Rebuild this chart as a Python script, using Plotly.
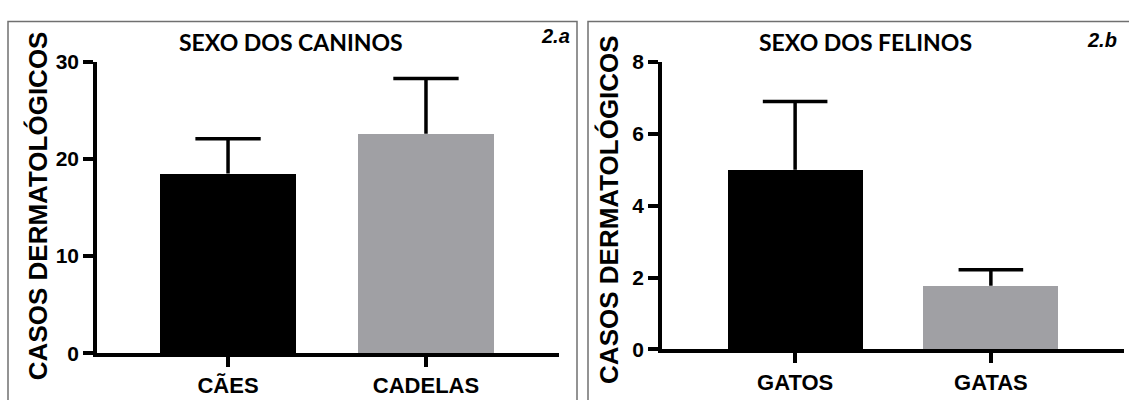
import plotly.graph_objects as go

# Casos dermatológicos por sexo
canino_cats = ["CÃES", "CADELAS"]
canino_media = [18.5, 22.6]
canino_dp = [3.6, 5.7]

felino_cats = ["GATOS", "GATAS"]
felino_media = [5.0, 1.77]
felino_dp = [1.9, 0.45]

bar_colors = ["#000000", "#a0a0a4"]

W, H = 1129, 400


def px_x(v):
    return v / W


def px_y(v):
    return (H - v) / H


def sd_lines(medias, dps, cap_half):
    """Haste vertical + barra superior do desvio padrão (só para cima)."""
    xs, ys = [], []
    for i, (m, s) in enumerate(zip(medias, dps)):
        top = m + s
        xs += [i, i, None, i - cap_half, i + cap_half, None]
        ys += [m, top, None, top, top, None]
    return xs, ys


fig = go.Figure()

fig.add_trace(go.Bar(
    x=[0, 1], y=canino_media, width=0.69,
    marker=dict(color=bar_colors, line=dict(width=0)),
    xaxis="x", yaxis="y", showlegend=False,
))
ex, ey = sd_lines(canino_media, canino_dp, 0.165)
fig.add_trace(go.Scatter(x=ex, y=ey, mode="lines",
                         line=dict(color="black", width=3.5),
                         xaxis="x", yaxis="y", showlegend=False, hoverinfo="skip"))

fig.add_trace(go.Bar(
    x=[0, 1], y=felino_media, width=0.69,
    marker=dict(color=bar_colors, line=dict(width=0)),
    xaxis="x2", yaxis="y2", showlegend=False,
))
ex, ey = sd_lines(felino_media, felino_dp, 0.165)
fig.add_trace(go.Scatter(x=ex, y=ey, mode="lines",
                         line=dict(color="black", width=3.5),
                         xaxis="x2", yaxis="y2", showlegend=False, hoverinfo="skip"))

ytick_font = dict(family="Liberation Sans, Arial", size=21, color="black", weight="bold")
xtick_font = dict(family="Liberation Sans, Arial", size=22, color="black", weight="bold")

axis_common = dict(showline=True, linecolor="black", linewidth=3.5,
                   ticks="outside", ticklen=10, tickwidth=3.5, tickcolor="black",
                   showgrid=False, zeroline=False, fixedrange=True)

fig.update_layout(
    width=W, height=H,
    margin=dict(l=0, r=0, t=0, b=0),
    paper_bgcolor="white", plot_bgcolor="white",
    bargap=0,
    xaxis=dict(domain=[px_x(97), px_x(559)], range=[-0.662, 1.672],
               tickvals=[0, 1], ticktext=canino_cats, anchor="y",
               tickfont=xtick_font, **axis_common),
    yaxis=dict(domain=[px_y(362), px_y(53)], range=[0, 30],
               tickvals=[0, 10, 20, 30], anchor="x",
               tickfont=ytick_font, **axis_common),
    xaxis2=dict(domain=[px_x(662), px_x(1124)], range=[-0.68, 1.68],
                tickvals=[0, 1], ticktext=felino_cats, anchor="y2",
                tickfont=xtick_font, **axis_common),
    yaxis2=dict(domain=[px_y(358), px_y(53)], range=[0, 8],
                tickvals=[0, 2, 4, 6, 8], anchor="x2",
                tickfont=ytick_font, **axis_common),
)

# Molduras dos painéis
border = dict(color="#707070", width=1.5)
fig.add_shape(type="rect", xref="paper", yref="paper",
              x0=px_x(8), x1=px_x(577), y0=-0.2, y1=px_y(10), line=border, layer="below")
fig.add_shape(type="rect", xref="paper", yref="paper",
              x0=px_x(588), x1=1.2, y0=-0.2, y1=px_y(10), line=border, layer="below")

title_font = dict(family="Lato, Open Sans", size=23, color="black", weight="bold")
ylab_font = dict(family="Liberation Sans, Arial", size=26, color="black", weight="bold")
tag_font = dict(family="Liberation Sans, Arial", size=20, color="black", weight="bold", style="italic")

annots = [
    dict(text="SEXO DOS CANINOS", x=px_x(291), y=px_y(32), font=title_font),
    dict(text="SEXO DOS FELINOS", x=px_x(865), y=px_y(32), font=title_font),
    dict(text="CASOS DERMATOLÓGICOS", x=px_x(38), y=px_y(206), font=ylab_font, textangle=-90),
    dict(text="CASOS DERMATOLÓGICOS", x=px_x(609), y=px_y(210), font=ylab_font, textangle=-90),
    dict(text="2.a", x=px_x(572), y=px_y(25), font=tag_font, xanchor="right"),
    dict(text="2.b", x=px_x(1119), y=px_y(30), font=tag_font, xanchor="right"),
]
for a in annots:
    a.setdefault("xanchor", "center")
    fig.add_annotation(xref="paper", yref="paper", yanchor="middle",
                       showarrow=False, **a)

fig.write_html("out.html")
